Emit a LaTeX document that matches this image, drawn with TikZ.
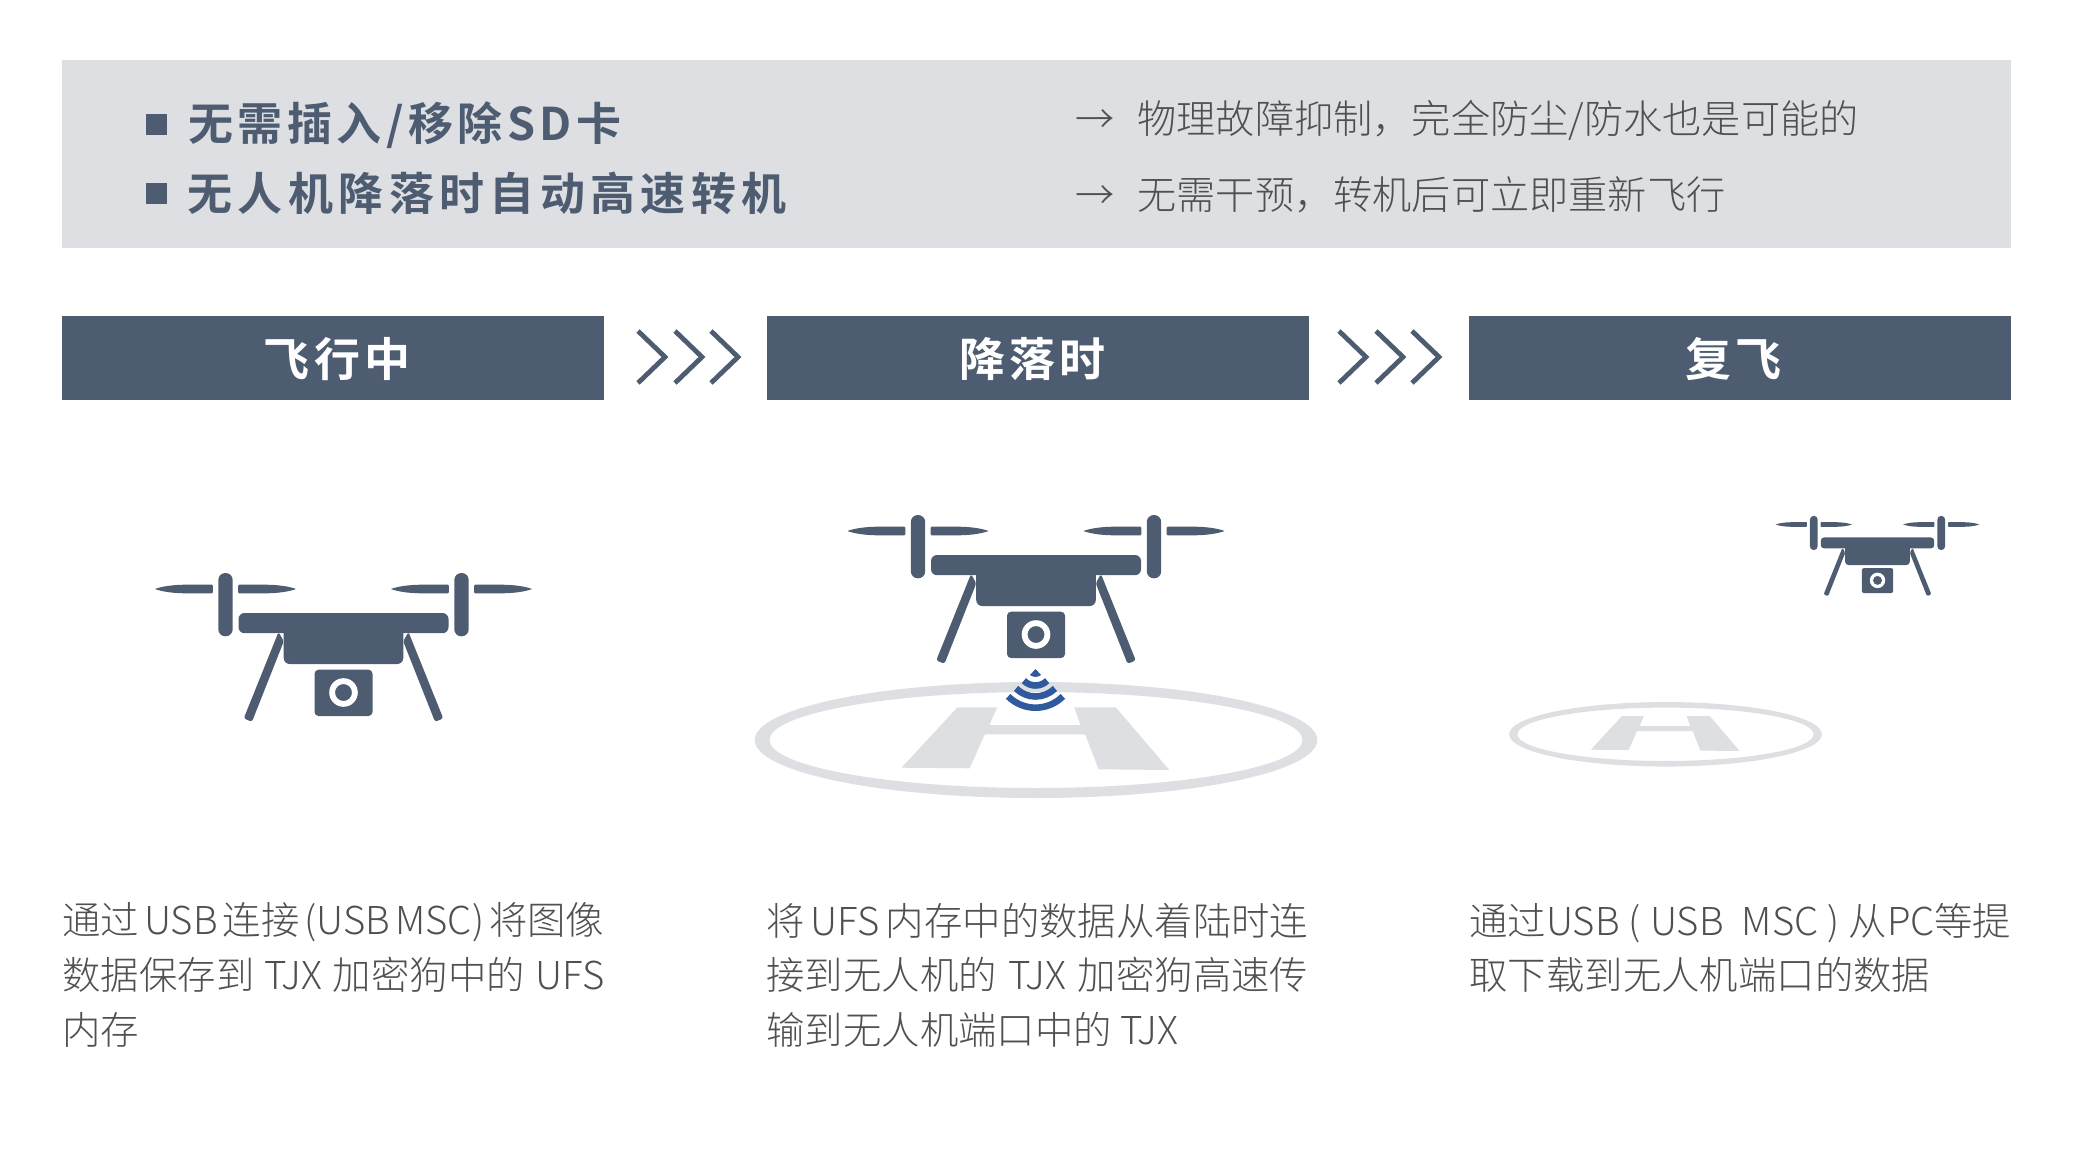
\documentclass[tikz,border=0pt]{standalone}
\usepackage{fontspec}
\usepackage{tikz}
\setmainfont{Noto Sans CJK SC}
\newfontfamily\cjkthin{Noto Sans CJK SC Light}
\newfontfamily\cjkhead[LetterSpace=12]{Noto Sans CJK SC Bold}
\newfontfamily\cjkheadtight[LetterSpace=10]{Noto Sans CJK SC Bold}
\newfontfamily\cjktitle[LetterSpace=9]{Noto Sans CJK SC Bold}
\definecolor{slate}{HTML}{4D5C70}
\definecolor{panel}{HTML}{DDDFE3}
\definecolor{inktext}{HTML}{505050}
\definecolor{wave}{HTML}{2F5A9B}
\newcommand{\fitline}[1]{\hbox to 271pt{\spaceskip=2.5pt plus 30pt minus 1.5pt #1}}
\tikzset{
  phasebox/.style={fill=slate, text=white, minimum width=271pt, minimum height=42pt, inner sep=0pt,
                   text height=20pt, text depth=1.1pt, font=\cjktitle\fontsize{23}{26}\selectfont},
  headline/.style={anchor=west, inner sep=0pt, text=slate, font=\cjkhead\fontsize{22.5}{26}\selectfont},
  noteline/.style={anchor=west, inner sep=0pt, text=inktext, font=\cjkthin\fontsize{19.6}{24}\selectfont},
  bodytext/.style={anchor=north west, inner sep=0pt, align=left, text=inktext,
                   font=\cjkthin\fontsize{19.2}{27.3}\selectfont},
  bulletbox/.style={fill=slate, minimum width=10.5pt, minimum height=10.5pt, inner sep=0pt},
  chevron/.style={draw=slate, line width=2.4pt, miter limit=10},
  wavearc/.style={draw=wave, line width=3.3pt},
  pics/drone/.style={code={
    \begin{scope}[scale=#1, fill=slate]
      % rotors with their blades
      \foreach \rx in {-118,118} {
        \fill[rounded corners=#1*3.5pt] (\rx-7.2,-16) rectangle (\rx+7.2,47.3);
        \foreach \bs in {-1,1}
          \fill[shift={(\rx,0)}, xscale=\bs] (12.7,-3.3) -- (13.7,-4.3) -- (40,-4.3)
            .. controls (52,-4.3) and (64,-2.6) .. (70.5,0)
            .. controls (64,2.6) and (52,4.3) .. (40,4.3) -- (13.7,4.3) -- (12.7,3.3) -- cycle;
      }
      % arm, body
      \fill[rounded corners=#1*3pt] (-105,24) rectangle (105,44.2);
      \fill[rounded corners=#1*3pt] (-59.8,38) rectangle (59.8,75);
      % legs
      \fill[rounded corners=#1*1.2pt] (-65,43) -- (-99.8,129.5) -- (-91.5,132.7) -- (-59.7,52.3) -- cycle;
      \fill[rounded corners=#1*1.2pt] (65,43) -- (99.8,129.5) -- (91.5,132.7) -- (59.7,52.3) -- cycle;
      % camera
      \fill[rounded corners=#1*2pt] (-29,80.7) rectangle (29,127);
      \fill[white, even odd rule] (0,103.5) circle[radius=14.3] (0,103.5) circle[radius=8.5];
    \end{scope}
  }},
  pics/helipad/.style={code={
    \begin{scope}[scale=#1]
      \fill[panel, even odd rule] (0,0) ellipse[x radius=281.3, y radius=58]
        (0,0) ellipse[x radius=266.4, y radius=48];
      \fill[panel] (-78.6,-32.7) -- (-38.8,-32.7) -- (-46.5,-15) -- (44.6,-15) -- (38.1,-32.7)
        -- (79.8,-32.7) -- (133.4,30) -- (62.6,29.3) -- (49.2,-5.5) -- (-51.1,-5.7)
        -- (-66.4,28.3) -- (-134.5,27.7) -- cycle;
    \end{scope}
  }}
}
\begin{document}
\begin{tikzpicture}[x=0.5pt, y=-0.5pt]
  \useasboundingbox (0,0) rectangle (2073,1167);

  % top panel
  \fill[panel] (62,60) rectangle (2011,248);
  \node[bulletbox] (bulleta) at (156.5,124.5) {};
  \node[bulletbox] (bulletb) at (156.5,193.5) {};
  \node[headline] (heada) at (188,125) {\cjkheadtight 无需插入/移除SD卡};
  \node[headline] (headb) at (187,193) {无人机降落时自动高速转机};
  \node[noteline] (notea) at (1075,120) {→\hspace{11.5pt}物理故障抑制，完全防尘/防水也是可能的};
  \node[noteline] (noteb) at (1075,195) {→\hspace{11.5pt}无需干预，转机后可立即重新飞行};

  % phases
  \node[phasebox] (boxa) at (333,358) {\hspace*{4pt}飞行中};
  \node[phasebox] (boxb) at (1038,358) {降落时\hspace*{5.2pt}};
  \node[phasebox] (boxc) at (1740,358) {复飞\hspace*{6.6pt}};

  % chevrons between the phases
  \foreach \cx in {637,674,710,1338,1375,1411}
    \draw[chevron] (\cx+1,331) -- (\cx+28,357) -- (\cx+1,383);

  % drones and landing pads
  \pic at (343.5,589) {drone=1};
  \pic at (1036,740) {helipad=1};
  \pic at (1036,531) {drone=1};
  \pic at (1665.5,734.3) {helipad=0.556};
  \pic at (1877.5,524.5) {drone=0.54};

  % signal from the camera
  \fill[wave] (1035.5,669) -- (1030,675) .. controls (1033,677.5) and (1038,677.5) .. (1041,675) -- cycle;
  \foreach \wr in {16.5,27.5,38.7}
    \draw[wavearc] (1035.5,669) ++(45:\wr) arc[start angle=45, end angle=135, radius=\wr];

  % descriptions
  \node[bodytext] (texta) at (62,902.5) {\fitline{通过 USB 连接 (USB MSC) 将图像}\\\fitline{数据保存到 TJX 加密狗中的 UFS}\\内存};
  \node[bodytext] (textb) at (766,902.5) {\fitline{将 UFS 内存中的数据从着陆时连}\\\fitline{接到无人机的 TJX 加密狗高速传}\\输到无人机端口中的 TJX};
  \node[bodytext] (textc) at (1469,902.5) {\fitline{通过USB ( USB\ \ MSC ) 从PC等提}\\取下载到无人机端口的数据};
\end{tikzpicture}
\end{document}
